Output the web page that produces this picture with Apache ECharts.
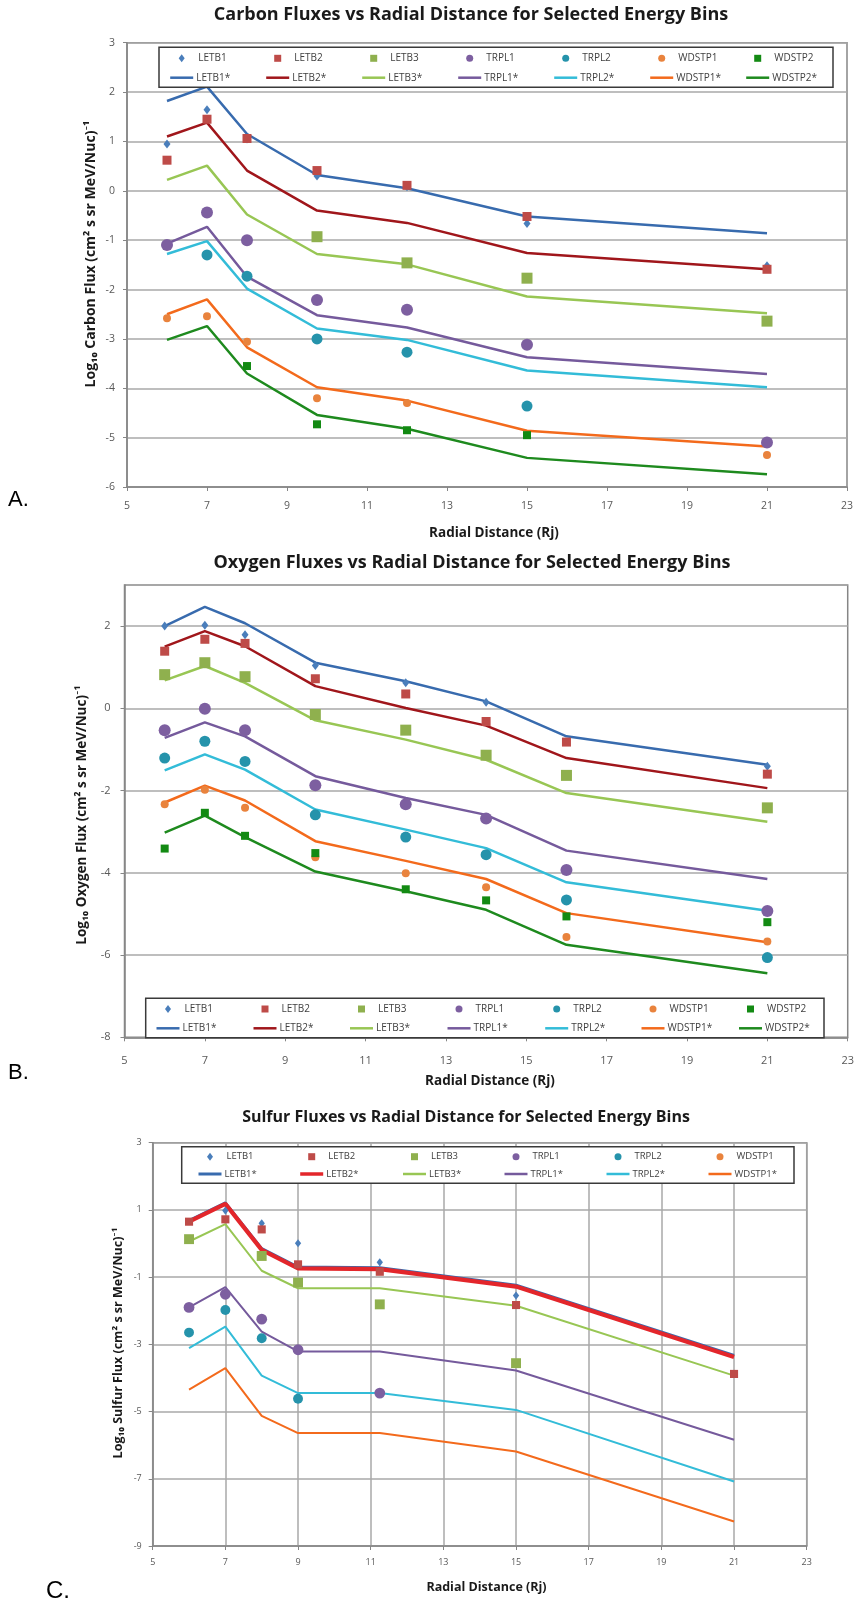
<!DOCTYPE html>
<html><head><meta charset="utf-8">
<script src="https://cdn.jsdelivr.net/npm/echarts@6.0.0/dist/echarts.min.js"></script>
<style>html,body{margin:0;padding:0;background:#fff}#c{width:857px;height:1599px}</style>
</head><body><div id="c"></div><script>
// ---------- DATA ----------
const NAMES = ['LETB1','LETB2','LETB3','TRPL1','TRPL2','WDSTP1','WDSTP2'];
const NAMES_C = ['LETB1','LETB2','LETB3','TRPL1','TRPL2','WDSTP1'];

// Panel A: Carbon
const xA = [6, 7, 8, 9.75, 12, 15, 21];
const A_LETB1  = [0.95, 1.64, 1.05, 0.30, 0.08, -0.66, -1.52];
const A_LETB2  = [0.62, 1.45, 1.06, 0.41, 0.11, -0.52, -1.59];
const A_LETB3  = [null, null, null, -0.93, -1.46, -1.77, -2.64];
const A_TRPL1  = [-1.10, -0.44, -1.00, -2.21, -2.41, -3.12, -5.10];
const A_TRPL2  = [null, -1.30, -1.73, -3.00, -3.27, -4.36, null];
const A_WDSTP1 = [-2.58, -2.54, -3.06, -4.20, -4.30, null, -5.35];
const A_WDSTP2 = [null, null, -3.55, -4.73, -4.85, -4.95, null];
const A_LETB1L  = [1.82, 2.11, 1.15, 0.32, 0.05, -0.52, -0.86];
const A_LETB2L  = [1.10, 1.38, 0.41, -0.40, -0.65, -1.26, -1.59];
const A_LETB3L  = [0.22, 0.51, -0.48, -1.28, -1.49, -2.14, -2.48];
const A_TRPL1L  = [-1.07, -0.73, -1.74, -2.52, -2.77, -3.37, -3.71];
const A_TRPL2L  = [-1.28, -1.02, -1.98, -2.79, -3.02, -3.64, -3.98];
const A_WDSTP1L = [-2.50, -2.20, -3.17, -3.98, -4.25, -4.86, -5.18];
const A_WDSTP2L = [-3.02, -2.74, -3.70, -4.54, -4.82, -5.41, -5.74];

// Panel B: Oxygen
const xB = [6, 7, 8, 9.75, 12, 14, 16, 21];
const B_LETB1  = [2.00, 2.02, 1.79, 1.04, 0.62, 0.15, null, -1.41];
const B_LETB2  = [1.39, 1.68, 1.58, 0.72, 0.35, -0.32, -0.82, -1.60];
const B_LETB3  = [0.82, 1.11, 0.77, -0.15, -0.53, -1.14, -1.63, -2.42];
const B_TRPL1  = [-0.53, -0.01, -0.53, -1.87, -2.33, -2.68, -3.93, -4.93];
const B_TRPL2  = [-1.21, -0.80, -1.29, -2.59, -3.13, -3.56, -4.66, -6.06];
const B_WDSTP1 = [-2.33, -1.98, -2.42, -3.62, -4.01, -4.35, -5.56, -5.67];
const B_WDSTP2 = [-3.41, -2.54, -3.10, -3.52, -4.40, -4.67, -5.06, -5.20];
const B_LETB1L  = [2.00, 2.47, 2.07, 1.11, 0.66, 0.17, -0.68, -1.37];
const B_LETB2L  = [1.50, 1.88, 1.51, 0.54, 0.01, -0.42, -1.21, -1.94];
const B_LETB3L  = [0.68, 1.03, 0.62, -0.29, -0.76, -1.25, -2.06, -2.76];
const B_TRPL1L  = [-0.72, -0.34, -0.68, -1.65, -2.18, -2.59, -3.46, -4.15];
const B_TRPL2L  = [-1.51, -1.12, -1.49, -2.46, -2.95, -3.40, -4.23, -4.92];
const B_WDSTP1L = [-2.29, -1.88, -2.24, -3.23, -3.71, -4.15, -4.98, -5.69];
const B_WDSTP2L = [-3.02, -2.61, -3.13, -3.97, -4.45, -4.90, -5.75, -6.44];

// Panel C: Sulfur
const xC = [6, 7, 8, 9, 11.25, 15, 21];
const C_LETB1  = [null, 0.98, 0.60, 0.01, -0.56, -1.55, null];
const C_LETB2  = [0.65, 0.72, 0.42, -0.62, -0.84, -1.83, -3.88];
const C_LETB3  = [0.13, null, -0.37, -1.16, -1.81, -3.56, null];
const C_TRPL1  = [-1.90, -1.51, -2.25, -3.16, -4.45, null, null];
const C_TRPL2  = [-2.65, -1.98, -2.82, -4.62, null, null, null];
const C_WDSTP1 = [null, null, null, null, null, null, null];
const C_LETB1L  = [0.68, 1.21, -0.15, -0.70, -0.72, -1.24, -3.33];
const C_LETB2L  = [0.65, 1.18, -0.19, -0.74, -0.76, -1.28, -3.38];
const C_LETB3L  = [0.06, 0.58, -0.81, -1.33, -1.33, -1.85, -3.93];
const C_TRPL1L  = [-1.90, -1.30, -2.62, -3.21, -3.21, -3.78, -5.84];
const C_TRPL2L  = [-3.11, -2.47, -3.93, -4.45, -4.45, -4.95, -7.08];
const C_WDSTP1L = [-4.35, -3.71, -5.13, -5.64, -5.64, -6.19, -8.27];

const TITLES = [
  'Carbon Fluxes vs Radial Distance for Selected Energy Bins',
  'Oxygen Fluxes vs Radial Distance for Selected Energy Bins',
  'Sulfur Fluxes vs Radial Distance for Selected Energy Bins'
];
const YTITLES = [
  'Log\u2081\u2080 Carbon Flux (cm\u00B2 s sr MeV/Nuc)\u207B\u00B9',
  'Log\u2081\u2080 Oxygen Flux (cm\u00B2 s sr MeV/Nuc)\u207B\u00B9',
  'Log\u2081\u2080 Sulfur Flux (cm\u00B2 s sr MeV/Nuc)\u207B\u00B9'
];
const XTITLE = 'Radial Distance (Rj)';
const PANEL_LABELS = ['A.', 'B.', 'C.'];

// ---------- STYLE / LAYOUT ----------
const SYM = {LETB1:'diamond', LETB2:'rect', LETB3:'rect', TRPL1:'circle', TRPL2:'circle', WDSTP1:'circle', WDSTP2:'rect'};
const PT_COLOR = {LETB1:'#4A7EBB', LETB2:'#BE4B48', LETB3:'#8FB04E', TRPL1:'#7D5FA0', TRPL2:'#2593AB', WDSTP1:'#E9833D', WDSTP2:'#138A13'};
const LN_COLOR = {LETB1:'#386BAE', LETB2:'#A0161B', LETB3:'#98C654', TRPL1:'#755A9C', TRPL2:'#33BCD8', WDSTP1:'#F36A1C', WDSTP2:'#1E8A1E'};
const PT_SIZE = {LETB1:[7,9], LETB2:9, LETB3:11, TRPL1:12, TRPL2:11, WDSTP1:8, WDSTP2:8};
const LEG_ICON = {LETB1:[6,8], LETB2:[7,7], LETB3:[7,7], TRPL1:[7,7], TRPL2:[7,7], WDSTP1:[7,7], WDSTP2:[7,7]};
const FONT = '"Open Sans", Lato, sans-serif';

const panels = [
  {key:'A', x:xA, names:NAMES,
   pts:{LETB1:A_LETB1,LETB2:A_LETB2,LETB3:A_LETB3,TRPL1:A_TRPL1,TRPL2:A_TRPL2,WDSTP1:A_WDSTP1,WDSTP2:A_WDSTP2},
   lines:{LETB1:A_LETB1L,LETB2:A_LETB2L,LETB3:A_LETB3L,TRPL1:A_TRPL1L,TRPL2:A_TRPL2L,WDSTP1:A_WDSTP1L,WDSTP2:A_WDSTP2L},
   grid:{left:127, top:42.7, width:720, height:444.3}, y:{min:-6,max:3,interval:1}, vgrid:false,
   lw:2.5, lwSpecial:null, tickFs:10.5, xMargin:14, yMargin:12,
   title:{x:471, y:15, fs:18}, xt:{x:494, y:533, fs:13.5}, yt:{x:91, y:254, fs:14},
   lab:{x:8, y:500, fs:22},
   leg:{cols:[181.7,277.7,373.7,469.7,565.7,661.7,757.7], row1:58.3, row2:77.7, box:[159,47.3,674,40], fs:10},
   ptScale:1},
  {key:'B', x:xB, names:NAMES,
   pts:{LETB1:B_LETB1,LETB2:B_LETB2,LETB3:B_LETB3,TRPL1:B_TRPL1,TRPL2:B_TRPL2,WDSTP1:B_WDSTP1,WDSTP2:B_WDSTP2},
   lines:{LETB1:B_LETB1L,LETB2:B_LETB2L,LETB3:B_LETB3L,TRPL1:B_TRPL1L,TRPL2:B_TRPL2L,WDSTP1:B_WDSTP1L,WDSTP2:B_WDSTP2L},
   grid:{left:124.5, top:585, width:724.8, height:452.3}, y:{min:-8,max:3,interval:2}, vgrid:false,
   lw:2.5, lwSpecial:null, tickFs:11, xMargin:18, yMargin:14,
   title:{x:472, y:563, fs:18}, xt:{x:490, y:1081, fs:13.5}, yt:{x:82, y:815, fs:13.5},
   lab:{x:8, y:1073, fs:22},
   leg:{cols:[168,265,361.5,459,556.7,653,750.5], row1:1009, row2:1028.3, box:[145.7,998.3,678.3,39.4], fs:10},
   ptScale:1},
  {key:'C', x:xC, names:NAMES_C,
   pts:{LETB1:C_LETB1,LETB2:C_LETB2,LETB3:C_LETB3,TRPL1:C_TRPL1,TRPL2:C_TRPL2,WDSTP1:C_WDSTP1},
   lines:{LETB1:C_LETB1L,LETB2:C_LETB2L,LETB3:C_LETB3L,TRPL1:C_TRPL1L,TRPL2:C_TRPL2L,WDSTP1:C_WDSTP1L},
   grid:{left:152.7, top:1142.7, width:654, height:403.3}, y:{min:-9,max:3,interval:2}, vgrid:true,
   lw:2, lwSpecial:{LETB2:4.2, LETB1:3}, tickFs:9, xMargin:12, yMargin:11, lnColor:{LETB2:'#E3262B'},
   title:{x:466, y:1117, fs:16}, xt:{x:486.5, y:1587, fs:12.5}, yt:{x:118, y:1343, fs:12.5},
   lab:{x:46, y:1579, fs:24},
   leg:{cols:[210,311.7,414.5,516,618,720], row1:1156.7, row2:1174, box:[181.7,1146.7,612.3,36.6], fs:9.5},
   ptScale:0.9}
];

function pairs(xs, ys){ const out=[]; xs.forEach((x,i)=>{ if(ys[i]!==null && ys[i]!==undefined) out.push([x, ys[i]]); }); return out; }

const grids=[], xAxes=[], yAxes=[], series=[], legends=[], graphics=[];
const AX = '#868686', SPLIT = '#A9A9A9', LBL = '#595959';

panels.forEach((p, i) => {
  grids.push(Object.assign({show:true, borderColor:AX, borderWidth:1.5, backgroundColor:'#fff'}, p.grid));
  xAxes.push({type:'value', gridIndex:i, min:5, max:23, interval:2,
    axisLine:{show:true, onZero:false, lineStyle:{color:AX, width:1.5}}, axisTick:{show:true, length:4, lineStyle:{color:AX}},
    axisLabel:{color:LBL, fontSize:p.tickFs, fontFamily:FONT, margin:p.xMargin},
    splitLine:{show:p.vgrid, lineStyle:{color:SPLIT, width:1.5}}});
  yAxes.push({type:'value', gridIndex:i, min:p.y.min, max:p.y.max, interval:p.y.interval,
    axisLine:{show:true, onZero:false, lineStyle:{color:AX, width:1.5}}, axisTick:{show:true, length:4, lineStyle:{color:AX}},
    axisLabel:{color:LBL, fontSize:p.tickFs, fontFamily:FONT, margin:p.yMargin, showMaxLabel: p.key!=='B'},
    splitLine:{show:true, lineStyle:{color:SPLIT, width:1.5}}});

  p.names.forEach(n => {
    const lw = (p.lwSpecial && p.lwSpecial[n]) ? p.lwSpecial[n] : p.lw;
    const lc = (p.lnColor && p.lnColor[n]) ? p.lnColor[n] : LN_COLOR[n];
    series.push({type:'line', name:p.key+':'+n+'*', xAxisIndex:i, yAxisIndex:i,
      data:pairs(p.x, p.lines[n]), symbol:'none', animation:false, silent:true,
      lineStyle:{color:lc, width:lw}, itemStyle:{color:lc}, z: n==='LETB2'&&p.key==='C' ? 3 : 2});
  });
  p.names.forEach(n => {
    let sz = PT_SIZE[n];
    sz = Array.isArray(sz) ? sz.map(v=>v*p.ptScale) : sz*p.ptScale;
    series.push({type:'scatter', name:p.key+':'+n, xAxisIndex:i, yAxisIndex:i,
      data:pairs(p.x, p.pts[n]), symbol:SYM[n], symbolSize:sz, animation:false, silent:true,
      itemStyle:{color:PT_COLOR[n], opacity:1}, z:4});
  });

  // legend frame
  const b = p.leg.box;
  graphics.push({type:'rect', z:5, shape:{x:b[0], y:b[1], width:b[2], height:b[3]},
    style:{fill:'#fff', stroke:'#3a3a3a', lineWidth:1.5}});
  const itemH = 12;
  const ts = {color:'#404040', fontSize:p.leg.fs, fontFamily:FONT, lineHeight:itemH};
  p.names.forEach((n, j) => {
    const c = p.leg.cols[j];
    const ic = LEG_ICON[n];
    // marker row
    legends.push({orient:'horizontal', left:c-ic[0]/2, top:p.leg.row1-itemH/2, padding:0,
      itemWidth:ic[0], itemHeight:ic[1], selectedMode:false, z:6,
      data:[{name:p.key+':'+n, icon:SYM[n]}],
      formatter: name => name.split(':')[1],
      textStyle:Object.assign({padding:[0,0,0, 11.5-ic[0]/2]}, ts)});
    // line row
    const lw = (p.lwSpecial && p.lwSpecial[n]) ? Math.min(p.lwSpecial[n],3.5) : 2.5;
    legends.push({orient:'horizontal', left:c-11.5, top:p.leg.row2-itemH/2, padding:0,
      itemWidth:23, itemHeight:lw, selectedMode:false, z:6,
      data:[{name:p.key+':'+n+'*', icon:'rect'}],
      formatter: name => name.split(':')[1],
      textStyle:Object.assign({padding:[0,0,0,-2]}, ts)});
  });

  // titles
  graphics.push({type:'text', x:p.title.x, y:p.title.y, z:7,
    style:{text:TITLES[i], fontFamily:FONT, fontWeight:'bold', fontSize:p.title.fs, fill:'#1a1a1a', align:'center', verticalAlign:'middle'}});
  graphics.push({type:'text', x:p.xt.x, y:p.xt.y, z:7,
    style:{text:XTITLE, fontFamily:FONT, fontWeight:'bold', fontSize:p.xt.fs, fill:'#1a1a1a', align:'center', verticalAlign:'middle'}});
  graphics.push({type:'text', x:p.yt.x, y:p.yt.y, rotation:Math.PI/2, z:7,
    style:{text:YTITLES[i], fontFamily:FONT, fontWeight:'bold', fontSize:p.yt.fs, fill:'#1a1a1a', align:'center', verticalAlign:'middle'}});
  graphics.push({type:'text', x:p.lab.x, y:p.lab.y, z:7,
    style:{text:PANEL_LABELS[i], fontFamily:'"Liberation Sans", Arial, sans-serif', fontSize:p.lab.fs, fill:'#000', align:'left', verticalAlign: i===2 ? 'top' : 'middle'}});
});

const chart = echarts.init(document.getElementById('c'), null, {renderer:'canvas', width:857, height:1599});
chart.setOption({
  animation:false, backgroundColor:'#fff',
  grid:grids, xAxis:xAxes, yAxis:yAxes, series:series, legend:legends,
  graphic:{elements:graphics}
});
</script></body></html>
